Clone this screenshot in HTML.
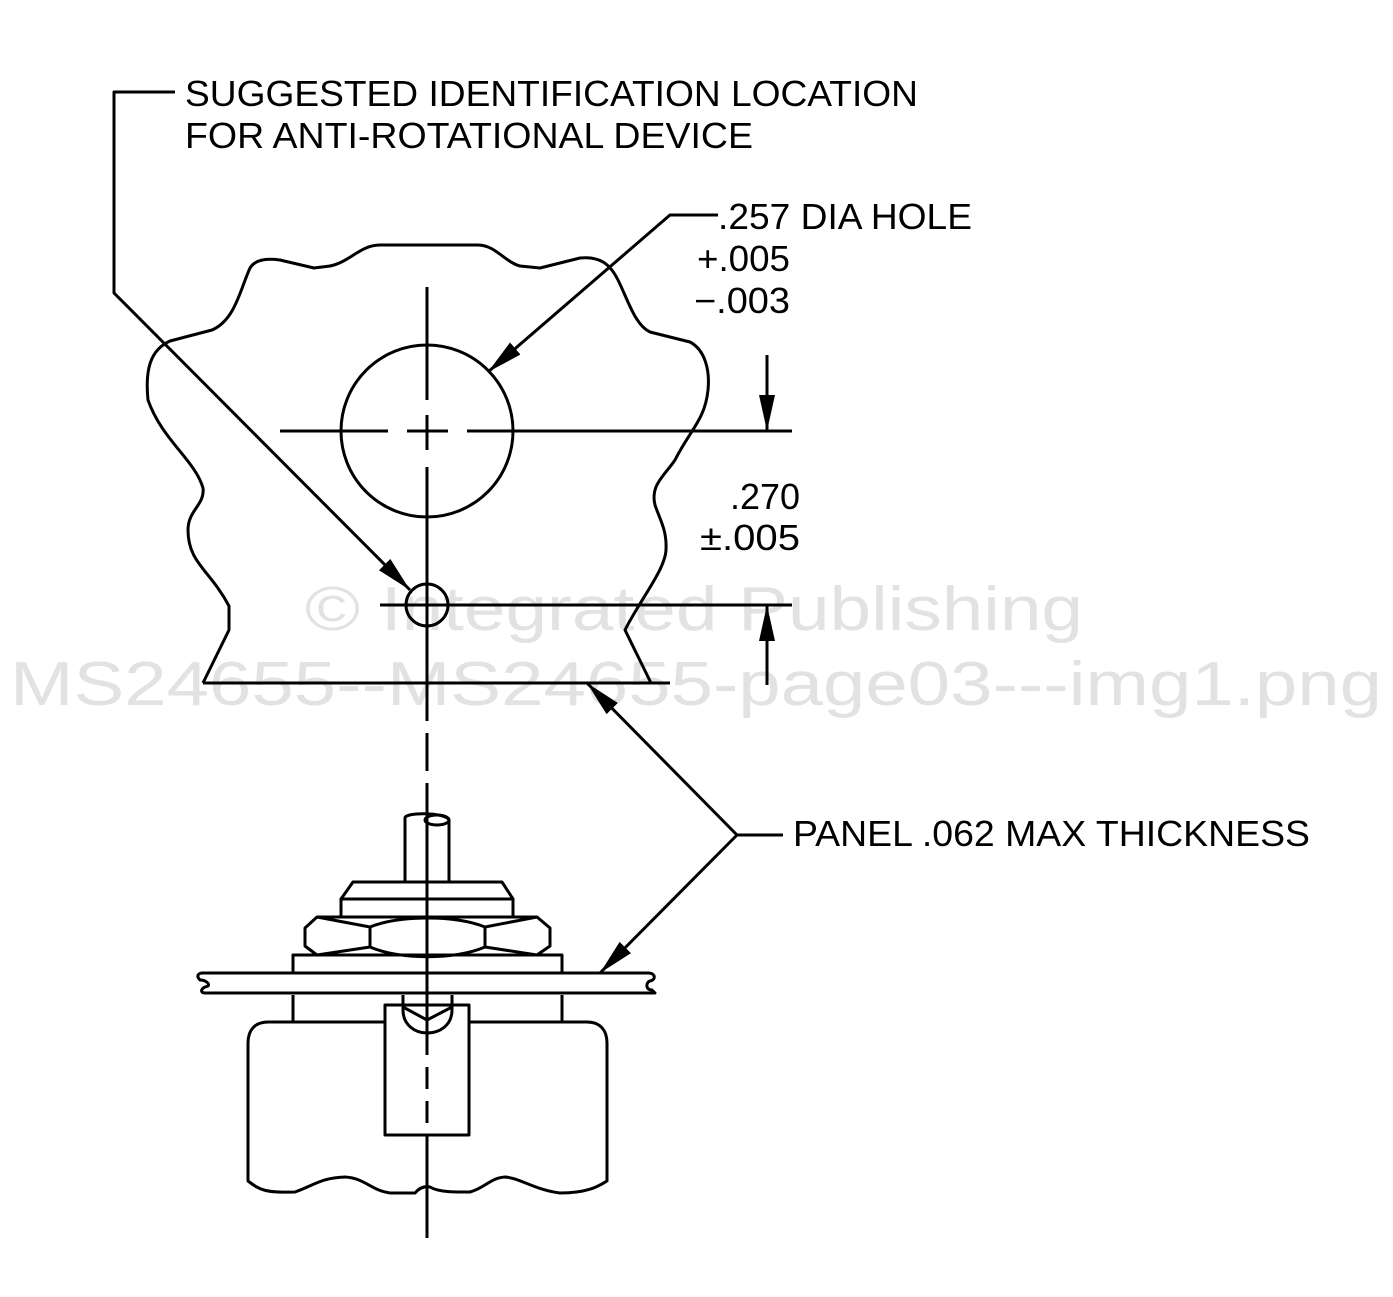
<!DOCTYPE html>
<html><head><meta charset="utf-8"><style>
html,body{margin:0;padding:0;background:#fff;}
svg{display:block;}
text{font-family:"Liberation Sans",sans-serif;fill:#000;}
.wm{fill:#e2e2e2;}
</style></head><body>
<svg width="1393" height="1297" viewBox="0 0 1393 1297" xmlns="http://www.w3.org/2000/svg">
<defs>
<marker id="ah" markerWidth="36" markerHeight="16" refX="36" refY="8" orient="auto" markerUnits="userSpaceOnUse">
<path d="M0,0 L36,8 L0,16 Z" fill="#000"/>
</marker>
</defs>
<!-- watermark -->
<text class="wm" x="305" y="630" font-size="62" textLength="778" lengthAdjust="spacingAndGlyphs">© Integrated Publishing</text>
<text class="wm" x="10" y="705" font-size="62" textLength="1372" lengthAdjust="spacingAndGlyphs">MS24655--MS24655-page03---img1.png</text>

<g fill="none" stroke="#000" stroke-width="3" stroke-linejoin="round">
<!-- panel outline -->
<path d="M203,683 L229,630 L229,606 C210,570 188,563 188,530 C188,510 205,505 203,488 C195,460 162,440 148,400 C145,370 150,350 170,341 L212,330 C235,320 240,290 250,268 C255,260 265,258 280,260 L314,268 L330,266 C350,262 360,245 380,245 L478,245 C495,245 505,262 520,266 L540,268 L580,258 C600,256 610,264 618,280 C628,300 635,325 650,332 L690,342 C705,350 710,370 708,390 C705,420 690,430 675,460 C665,475 650,485 655,505 C660,520 667,530 666,550 C665,570 640,600 625,630 L651,683"/>
<line x1="203" y1="683" x2="670" y2="683"/>
<!-- hole -->
<circle cx="427" cy="431" r="86"/>
<circle cx="427" cy="605" r="21"/>
<!-- center lines -->
<line x1="280" y1="431" x2="388" y2="431"/>
<line x1="407" y1="431" x2="448" y2="431"/>
<line x1="467" y1="431" x2="792" y2="431"/>
<line x1="427" y1="287" x2="427" y2="400"/>
<line x1="427" y1="415" x2="427" y2="450"/>
<line x1="427" y1="467" x2="427" y2="683"/>
<line x1="427" y1="683" x2="427" y2="815" stroke-dasharray="38,12"/>
<line x1="427" y1="815" x2="427" y2="1033"/>
<line x1="427" y1="1033" x2="427" y2="1135" stroke-dasharray="22,12"/>
<line x1="427" y1="1135" x2="427" y2="1238"/>
<line x1="380" y1="605" x2="792" y2="605"/>
<!-- leaders -->
<polyline points="175,92 114,92 114,293 410,590" marker-end="url(#ah)"/>
<polyline points="718,215 670,215 488,372" marker-end="url(#ah)"/>
<line x1="767" y1="355" x2="767" y2="431" marker-end="url(#ah)"/>
<line x1="767" y1="685" x2="767" y2="605" marker-end="url(#ah)"/>
<line x1="783" y1="835" x2="737" y2="835"/>
<line x1="737" y1="835" x2="587" y2="683" marker-end="url(#ah)"/>
<line x1="737" y1="835" x2="600" y2="973" marker-end="url(#ah)"/>

<!-- switch -->
<path d="M405,882 L405,818 C405,812 445,812 449,820 L449,882"/>
<ellipse cx="437" cy="820" rx="12" ry="5"/>
<path d="M353,882 L502,882 L513,899 L341,899 Z"/>
<rect x="341" y="899" width="172" height="18"/>
<path d="M317,917 L370,927 L370,947 L317,955 L305,946 L305,928 Z"/>
<path d="M485,927 L485,947 L537,955 L550,946 L550,928 L537,917 Z"/>
<path d="M370,927 C400,915 455,915 485,927 M370,947 C400,960 455,960 485,947"/>
<line x1="317" y1="917" x2="537" y2="917"/>
<line x1="317" y1="955" x2="537" y2="955"/>
<rect x="293" y="955" width="269" height="18"/>
<path d="M203,973 L648,973 C656,973 656,980 650,981 C646,982 645,990 652,990 L655,993 L205,993 C200,993 200,988 208,986 C210,984 206,980 200,980 C196,976 198,973 203,973 Z"/>
<line x1="293" y1="995" x2="293" y2="1022"/>
<line x1="562" y1="995" x2="562" y2="1022"/>
<path d="M385,1022 L268,1022 C255,1022 248,1030 248,1043 L248,1181 C260,1190 265,1193 295,1192 C315,1185 320,1178 345,1177 C365,1178 370,1190 390,1193 L415,1193 C420,1187 425,1186 430,1187 C440,1193 460,1192 470,1192 C485,1188 490,1178 505,1177 C520,1178 535,1190 560,1193 C590,1193 600,1185 607,1181 L607,1043 C607,1030 600,1022 587,1022 L469,1022"/>
<rect x="385" y="1005" width="84" height="130"/>
<path d="M403,995 L403,1010 C403,1025 415,1033 427,1033 C440,1033 452,1025 452,1010 L452,995"/>
<path d="M403,1007 L427,1020 L452,1007"/>
</g>

<!-- labels -->
<text x="185" y="106" font-size="36" textLength="733" lengthAdjust="spacingAndGlyphs">SUGGESTED IDENTIFICATION LOCATION</text>
<text x="185" y="148" font-size="36" textLength="568" lengthAdjust="spacingAndGlyphs">FOR ANTI-ROTATIONAL DEVICE</text>
<text x="718" y="229" font-size="36" textLength="254" lengthAdjust="spacingAndGlyphs">.257 DIA HOLE</text>
<text x="697" y="271" font-size="36" textLength="93" lengthAdjust="spacingAndGlyphs">+.005</text>
<text x="694" y="313" font-size="36" textLength="96" lengthAdjust="spacingAndGlyphs">−.003</text>
<text x="730" y="509" font-size="36" textLength="70" lengthAdjust="spacingAndGlyphs">.270</text>
<text x="700" y="550" font-size="36" textLength="100" lengthAdjust="spacingAndGlyphs">±.005</text>
<text x="793" y="846" font-size="36" textLength="517" lengthAdjust="spacingAndGlyphs">PANEL .062 MAX THICKNESS</text>
</svg>
</body></html>
